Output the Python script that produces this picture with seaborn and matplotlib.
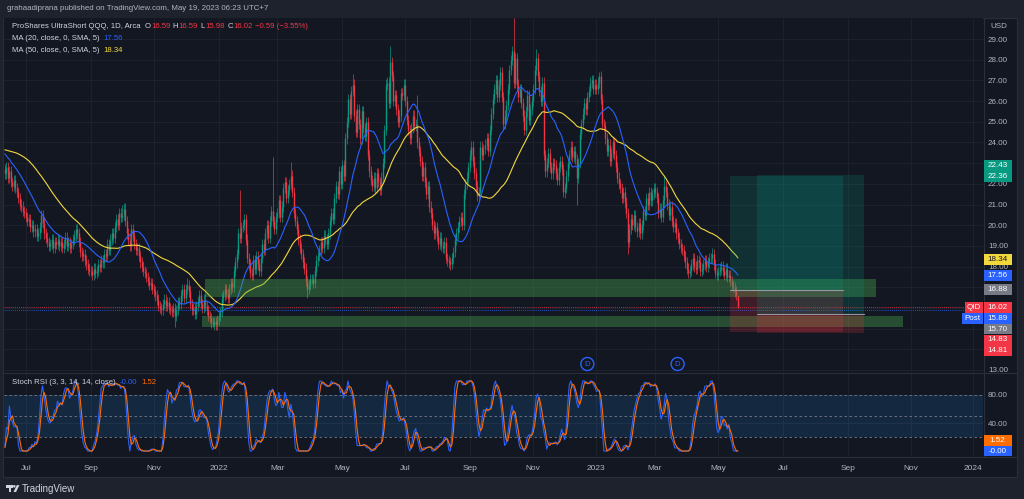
import numpy as np
import pandas as pd
import matplotlib
matplotlib.use("Agg")
import matplotlib.pyplot as plt
from matplotlib.patches import Rectangle, Circle, Polygon
from matplotlib.transforms import IdentityTransform
import seaborn as sns

W, H = 1024, 499

# ---------------------------------------------------------------- data
last_session = "2023-05-18"
market_holidays = [
    "2021-04-02", "2021-05-31", "2021-07-05", "2021-09-06", "2021-11-25", "2021-12-24",
    "2022-01-17", "2022-02-21", "2022-04-15", "2022-05-30", "2022-06-20", "2022-07-04",
    "2022-09-05", "2022-11-24", "2022-12-26", "2023-01-02", "2023-01-16", "2023-02-20",
    "2023-04-07", "2023-05-29", "2023-06-19", "2023-07-04", "2023-09-04", "2023-11-23",
    "2023-12-25", "2024-01-01", "2024-01-15",
]

# sessions before the visible window, only used to warm up the averages / RSI
warmup_closes = [
    23.9, 23.5, 23.3, 23.6, 23.2, 23.0, 23.1, 22.8, 22.9, 23.1,
    22.8, 23.0, 22.7, 22.9, 23.2, 23.1, 23.4, 23.9, 23.7, 24.1,
    24.4, 24.2, 24.6, 25.0, 24.8, 25.2, 24.9, 24.7, 24.4, 24.8,
    24.9, 24.6, 24.3, 24.0, 24.4, 24.1, 23.8, 23.9, 23.5, 23.6,
    23.4, 23.3, 23.1, 23.3, 23.0, 23.1, 22.9, 22.8, 22.6, 22.7,
]

closes_2021 = [
    # jun (from the 11th)
    22.5, 22.8, 22.3, 22.6, 22.1, 21.9, 22.2, 21.8, 21.6, 21.3, 21.0, 20.9, 20.7, 20.6,
    # jul
    20.4, 20.2, 20.3, 19.9, 20.0, 19.7, 19.8, 19.5, 19.6, 19.9, 20.5, 20.1, 19.6, 19.4,
    19.2, 19.0, 19.1, 19.3, 18.9, 19.2, 19.1,
    # aug
    19.3, 19.0, 19.2, 18.9, 19.1, 19.4, 19.0, 19.2, 18.9, 19.1, 19.3, 19.5, 19.8, 19.6,
    19.2, 18.7, 18.5, 18.6, 18.3, 18.1, 17.9, 17.8,
    # sep
    17.8, 17.6, 17.9, 17.7, 17.8, 18.1, 18.0, 18.3, 18.2, 18.6, 18.5, 19.1, 18.8, 19.3,
    19.6, 19.4, 19.9, 20.3, 20.0, 20.6, 20.4,
    # oct
    20.5, 20.8, 20.2, 19.6, 19.3, 19.0, 19.8, 19.5, 19.1, 18.8, 18.9, 18.5, 18.2, 18.0,
    17.8, 17.7, 17.5, 17.3, 17.1, 17.2, 16.9,
    # nov
    16.8, 16.6, 16.4, 16.1, 16.0, 15.9, 16.2, 16.4, 16.1, 16.3, 16.0, 15.9, 15.8, 16.0,
    15.6, 15.9, 16.3, 16.2, 16.6, 16.9, 16.5,
    # dec
    16.9, 17.1, 16.8, 16.2, 15.9, 16.0, 15.7, 16.1, 16.3, 16.6, 16.2, 16.0, 16.4, 16.1,
    15.9, 15.6, 15.5, 15.3, 15.2, 15.3, 15.2, 15.4,
]

closes_2022 = [
    # jan
    15.6, 15.8, 16.5, 16.6, 16.9, 16.7, 16.5, 16.9, 17.2, 17.0, 17.8, 18.2, 18.6, 19.6,
    19.4, 19.9, 20.0, 20.3, 19.3, 18.4,
    # feb
    18.1, 17.7, 17.6, 18.3, 17.9, 18.5, 18.1, 17.8, 18.4, 19.1, 18.8, 19.6, 20.0, 19.4,
    20.2, 20.7, 20.2, 19.8, 20.4,
    # mar
    20.6, 21.2, 20.4, 20.9, 21.8, 22.1, 21.3, 21.7, 22.0, 22.4, 21.6, 20.6, 20.2, 19.8,
    19.3, 18.9, 18.6, 18.2, 17.9, 17.3, 16.9, 17.1, 17.4,
    # apr
    17.4, 17.2, 17.8, 18.3, 18.5, 18.8, 19.2, 18.9, 19.5, 19.3, 19.1, 19.6, 20.2, 20.6,
    20.3, 21.3, 21.9, 21.5, 22.6, 22.0,
    # may
    22.9, 22.4, 24.2, 25.0, 26.1, 25.4, 26.5, 26.8, 25.3, 24.5, 25.6, 24.9, 24.2, 25.5,
    24.7, 24.3, 25.0, 23.4, 22.6, 22.2, 21.9,
    # jun
    22.3, 21.8, 22.5, 22.1, 21.7, 22.3, 23.0, 24.6, 26.8, 26.9, 25.9, 27.9, 27.2, 26.0,
    26.3, 25.6, 25.0, 25.3, 26.4, 26.3, 26.8,
    # jul
    26.0, 25.1, 24.6, 24.2, 24.7, 25.3, 24.8, 24.9, 24.0, 23.6, 23.1, 22.4, 22.8, 22.1,
    21.5, 21.9, 20.9, 20.6, 20.0, 19.6,
    # aug
    19.9, 19.5, 19.1, 19.4, 19.0, 18.9, 19.2, 18.4, 18.3, 18.2, 18.1, 18.4, 18.7, 19.3,
    19.6, 19.9, 20.2, 20.4, 20.0, 21.5, 22.0, 22.3, 22.8,
    # sep
    23.4, 23.8, 23.1, 22.5, 21.9, 21.4, 21.6, 23.8, 23.4, 23.7, 23.9, 24.2, 23.6, 24.6,
    25.4, 26.1, 26.6, 27.0, 26.2, 26.8, 27.4,
    # oct
    26.2, 24.9, 25.3, 25.8, 26.6, 27.5, 28.0, 28.4, 26.9, 28.1, 26.8, 26.2, 26.6, 25.9,
    25.3, 24.6, 25.5, 26.3, 25.1, 25.6, 26.0,
    # nov
    26.6, 27.5, 28.1, 27.2, 26.5, 26.0, 26.9, 23.4, 22.6, 23.0, 23.5, 22.8, 22.5, 23.0,
    22.9, 22.5, 22.2, 22.8, 23.1, 22.7, 21.6,
    # dec
    21.8, 22.4, 23.0, 23.4, 23.8, 23.3, 23.6, 23.2, 22.3, 23.0, 24.4, 24.9, 25.4, 25.9,
    25.6, 26.2, 26.5, 26.9, 27.0, 26.6, 26.8,
]

closes_2023 = [
    # jan
    26.6, 26.9, 27.2, 26.1, 24.9, 24.8, 24.2, 23.6, 23.9, 23.1, 23.5, 24.0, 23.4, 22.8,
    22.3, 22.0, 21.8, 21.3, 21.6, 21.1,
    # feb
    20.6, 19.2, 19.8, 20.3, 20.0, 20.5, 19.9, 19.7, 20.1, 19.6, 20.0, 20.7, 20.5, 21.3,
    21.0, 21.6, 21.2, 21.5, 21.8,
    # mar
    21.6, 21.3, 20.6, 20.8, 20.4, 21.2, 21.9, 21.6, 21.0, 20.5, 20.9, 20.2, 19.9, 20.1,
    19.6, 19.4, 19.1, 18.9, 18.8, 18.5, 18.2, 17.9, 17.7,
    # apr
    17.8, 18.1, 18.4, 18.0, 17.9, 18.3, 18.2, 17.8, 17.9, 18.1, 18.3, 18.0, 18.2, 18.4,
    18.4, 18.6, 18.1, 17.7, 17.6,
    # may (to the 18th)
    17.8, 17.9, 18.0, 17.8, 17.6, 17.9, 17.5, 17.6, 17.3, 17.1, 17.0, 16.8, 16.61, 16.02,
]

wick = 0.25
wick_highs = {
    "2021-10-01": 21.0, "2021-12-02": 17.45, "2022-01-24": 21.7, "2022-02-24": 23.3,
    "2022-03-14": 23.05, "2022-05-11": 27.3, "2022-06-16": 28.66, "2022-07-14": 26.3,
    "2022-10-13": 30.0, "2022-11-03": 28.5, "2023-01-05": 27.4, "2023-03-09": 22.4,
    "2023-04-25": 18.9, "2023-05-18": 16.59,
}
wick_lows = {
    "2021-11-19": 15.1, "2021-12-28": 15.08, "2022-03-29": 16.5, "2022-08-16": 17.9,
    "2022-12-01": 21.3, "2022-12-13": 21.0, "2023-02-02": 18.6, "2023-05-18": 15.98,
}

last_price = 16.02
post_price = 15.89
ma20_last, ma50_last = "17.56", "18.34"
stoch_k_last, stoch_d_last = "-0.00", "1.52"

# drawings on the chart
zone_upper = (16.54, 17.41, "2021-12-20", "2023-09-29")
zone_lower = (15.09, 15.62, "2021-12-16", "2023-10-25")
long_a = dict(entry=16.88, target=22.36, stop=14.83, start="2023-05-11", end="2023-08-29")
long_b = dict(entry=15.70, target=22.43, stop=14.81, start="2023-06-07", end="2023-09-19")
dividend_dates = ["2022-12-22", "2023-03-22"]

# ---------------------------------------------------------------- frame
cal = pd.bdate_range("2021-03-01", "2024-02-29", freq="C", holidays=market_holidays)
pos_of = {d.strftime("%Y-%m-%d"): i for i, d in enumerate(cal)}

closes = warmup_closes + closes_2021 + closes_2022 + closes_2023
end_i = pos_of[last_session]
start_i = end_i - len(closes) + 1
first_vis = start_i + len(warmup_closes)

df = pd.DataFrame({"x": np.arange(start_i, end_i + 1), "close": closes})
df["date"] = [cal[i].strftime("%Y-%m-%d") for i in df.x]
df["open"] = df.close.shift(1).fillna(df.close)
df.loc[df.date == last_session, "open"] = 16.59
df["high"] = np.maximum(df.open, df.close) + wick
df["low"] = np.minimum(df.open, df.close) - wick
for d, v in wick_highs.items():
    df.loc[df.date == d, "high"] = v
for d, v in wick_lows.items():
    df.loc[df.date == d, "low"] = v

df["ma20"] = df.close.rolling(20).mean()
df["ma50"] = df.close.rolling(50).mean()

delta = df.close.diff()
gain = delta.clip(lower=0).ewm(alpha=1 / 14, adjust=False).mean()
loss = (-delta.clip(upper=0)).ewm(alpha=1 / 14, adjust=False).mean()
rsi = 100 - 100 / (1 + gain / loss)
lo, hi = rsi.rolling(14).min(), rsi.rolling(14).max()
df["k"] = (100 * (rsi - lo) / (hi - lo)).rolling(3).mean()
df["d"] = df.k.rolling(3).mean()

vis = df[df.x >= first_vis].copy()

# ---------------------------------------------------------------- style
BG = "#131722"
FRAME = "#1e222d"
GRID = "#1f2330"
TXT = "#b2b5be"
LT = "#d1d4dc"
UP, DOWN = "#089981", "#f23645"
BLUE, YELLOW, ORANGE, GRAY = "#2962ff", "#f2d83c", "#ff6d00", "#787b86"

sns.set_theme(style="dark", rc={"axes.facecolor": BG, "figure.facecolor": FRAME})
plt.rcParams["font.family"] = ["Liberation Sans", "DejaVu Sans"]

fig = plt.figure(figsize=(W / 100, H / 100), dpi=100)
fig.add_artist(Rectangle((3, H - 477), 1014, 459, transform=IdentityTransform(),
                         fc=BG, ec="#2a2e39", lw=0.8, zorder=0))

ax = fig.add_axes([4 / W, (H - 372) / H, 979 / W, 354 / H])
axs = fig.add_axes([4 / W, (H - 456) / H, 979 / W, 83 / H])

bar_px = 1.505
x_left = first_vis - 0.6
x_right = x_left + 979 / bar_px
for a in (ax, axs):
    a.set_xlim(x_left, x_right)
    a.set_facecolor(BG)
    for s in a.spines.values():
        s.set_visible(False)
ax.set_ylim(12.9, 30.02)
axs.set_ylim(-7.1, 111.4)

# month ticks
tick_pos, tick_lab = [], []
for per in pd.period_range("2021-07", "2024-01", freq="M"):
    if per.month % 2 == 0:
        continue
    first = cal[cal >= per.start_time][0]
    tick_pos.append(pos_of[first.strftime("%Y-%m-%d")])
    tick_lab.append(str(per.year) if per.month == 1 else per.strftime("%b"))

for a in (ax, axs):
    a.set_xticks(tick_pos)
    a.grid(True, color=GRID, lw=0.6)
    a.yaxis.tick_right()
    a.tick_params(axis="y", length=0, pad=3.6, labelsize=5.8, labelcolor=TXT)
ax.tick_params(axis="x", length=0, labelbottom=False)
axs.set_xticklabels(tick_lab)
axs.tick_params(axis="x", length=0, pad=6.2, labelsize=6.0, labelcolor=TXT)

ax.set_yticks(range(13, 30))
ax.set_yticklabels([f"{v:.2f}" for v in range(13, 30)])
axs.set_yticks([40, 80])
axs.set_yticklabels(["40.00", "80.00"])

# candles
colors = np.where(vis.close >= vis.open, UP, DOWN)
ax.vlines(vis.x, vis.low, vis.high, colors=colors, lw=0.5, zorder=3)
ax.vlines(vis.x, vis.open, vis.close, colors=colors, lw=1.0, zorder=3)

sns.lineplot(data=vis, x="x", y="ma50", ax=ax, color=YELLOW, linewidth=0.8, legend=False, zorder=4)
sns.lineplot(data=vis, x="x", y="ma20", ax=ax, color=BLUE, linewidth=0.8, legend=False, zorder=4)

ax.axhline(last_price, color=DOWN, lw=0.6, ls=(0, (1, 1.5)), zorder=4)
ax.axhline(post_price, color=BLUE, lw=0.6, ls=(0, (1, 1.5)), zorder=4)

# support zones
for low_p, high_p, d0, d1 in (zone_upper, zone_lower):
    x0, x1 = pos_of[d0], pos_of[d1]
    ax.add_patch(Rectangle((x0, low_p), x1 - x0, high_p - low_p, fc="#4caf50", alpha=0.36,
                           ec="none", zorder=5))

# long position tools
for t in (long_a, long_b):
    x0, x1 = pos_of[t["start"]], pos_of[t["end"]]
    ax.add_patch(Rectangle((x0, t["entry"]), x1 - x0, t["target"] - t["entry"], fc=UP,
                           alpha=0.2, ec="none", zorder=5))
    ax.add_patch(Rectangle((x0, t["stop"]), x1 - x0, t["entry"] - t["stop"], fc=DOWN,
                           alpha=0.2, ec="none", zorder=5))
    ax.plot([x0, x1], [t["entry"], t["entry"]], color="#9598a1", lw=0.8, zorder=6)

# dividend markers
for d in dividend_dates:
    px, _ = ax.transData.transform((pos_of[d], 0))
    py = H - 364
    fig.add_artist(Circle((px, py), 6.5, transform=IdentityTransform(), fc=BG, ec=BLUE, lw=1.0, zorder=7))
    fig.text(px / W, py / H, "D", color=BLUE, fontsize=5.6, ha="center", va="center", zorder=8)

# stoch rsi panel
axs.axhspan(20, 80, color="#2196f3", alpha=0.14, lw=0, zorder=1)
for lvl in (20, 50, 80):
    axs.axhline(lvl, color=GRAY, lw=0.6, ls=(0, (3, 3)), zorder=2)
sns.lineplot(data=vis, x="x", y="k", ax=axs, color=BLUE, linewidth=0.8, legend=False, zorder=3)
sns.lineplot(data=vis, x="x", y="d", ax=axs, color=ORANGE, linewidth=0.8, legend=False, zorder=4)
for a in (ax, axs):
    a.set_xlabel("")
    a.set_ylabel("")

# separators
for yy in (H - 372.5, H - 456.5):
    fig.add_artist(plt.Line2D([3, 1017], [yy, yy], transform=IdentityTransform(), color="#2a2e39", lw=0.8))
fig.add_artist(plt.Line2D([983.5, 983.5], [H - 456.5, H - 18], transform=IdentityTransform(),
                          color="#2a2e39", lw=0.8))


# ---------------------------------------------------------------- text
def text_run(x_px, y_px, parts, size=5.6):
    r = fig.canvas.get_renderer()
    for s, c, gap in parts:
        t = fig.text(x_px / W, 1 - y_px / H, s, color=c, fontsize=size, ha="left", va="center")
        x_px += t.get_window_extent(r).width + gap


fig.text(7 / W, 1 - 9 / H, "grahaadiprana published on TradingView.com, May 19, 2023 06:23 UTC+7",
         color=TXT, fontsize=5.7, ha="left", va="center")
text_run(12, 26, [("ProShares UltraShort QQQ, 1D, Arca", LT, 4), ("O", LT, 0.3), ("16.59", DOWN, 2.5),
                  ("H", LT, 0.3), ("16.59", DOWN, 2.5), ("L", LT, 0.3), ("15.98", DOWN, 2.5),
                  ("C", LT, 0.3), ("16.02", DOWN, 2.5), ("\u22120.59 (\u22123.55%)", DOWN, 0)])
text_run(12, 38, [("MA (20, close, 0, SMA, 5)", LT, 4), (ma20_last, BLUE, 0)])
text_run(12, 50, [("MA (50, close, 0, SMA, 5)", LT, 4), (ma50_last, YELLOW, 0)])
text_run(12, 383, [("Stoch RSI (3, 3, 14, 14, close)", LT, 4), (stoch_k_last, BLUE, 4),
                   (stoch_d_last, ORANGE, 0)])
fig.text(990 / W, 1 - 26 / H, "USD", color=TXT, fontsize=5.8, ha="left", va="center")


def axis_tag(a, y_val, label, face, fg="white", side=None):
    py = a.transData.transform((0, y_val))[1]
    fig.add_artist(Rectangle((983.5, py - 5.3), 28, 10.6, transform=IdentityTransform(),
                             fc=face, ec="none", zorder=9))
    fig.text(997.5 / W, py / H, label, color=fg, fontsize=5.8, ha="center", va="center", zorder=10)
    if side:
        wbox = 18 if side == "QID" else 21
        fig.add_artist(Rectangle((982.5 - wbox, py - 5.3), wbox, 10.6, transform=IdentityTransform(),
                                 fc=face, ec="none", zorder=9))
        fig.text((982.5 - wbox / 2) / W, py / H, side, color="white", fontsize=5.8,
                 ha="center", va="center", zorder=10)


gap = 10.8 / 20.69
# upper target tags stack upwards
disp = None
for val, face in sorted([(long_a["target"], UP), (long_b["target"], UP)]):
    disp = val if disp is None else max(val, disp + gap)
    axis_tag(ax, disp, f"{val:.2f}", face)
# remaining tags stack downwards
lower_tags = [
    (float(ma50_last), YELLOW, "#131722", None),
    (float(ma20_last), BLUE, "white", None),
    (long_a["entry"], GRAY, "white", None),
    (last_price, DOWN, "white", "QID"),
    (post_price, BLUE, "white", "Post"),
    (long_b["entry"], GRAY, "white", None),
    (long_a["stop"], DOWN, "white", None),
    (long_b["stop"], DOWN, "white", None),
]
disp = None
for val, face, fg, side in lower_tags:
    disp = val if disp is None else min(val, disp - gap)
    axis_tag(ax, disp, f"{val:.2f}", face, fg, side)

axis_tag(axs, 10.8 / 0.7, stoch_d_last, ORANGE)
axis_tag(axs, 0.0, stoch_k_last, BLUE)

# footer logo + name
LOGO = "#d1d4dc"
fig.add_artist(Rectangle((6, H - 487.5), 6.5, 2.4, transform=IdentityTransform(), fc=LOGO, ec="none"))
fig.add_artist(Rectangle((8.6, H - 492), 2.4, 6.8, transform=IdentityTransform(), fc=LOGO, ec="none"))
fig.add_artist(Circle((14.3, H - 486.3), 1.3, transform=IdentityTransform(), fc=LOGO, ec="none"))
fig.add_artist(Polygon([(13.5, H - 492), (16.8, H - 485.1), (19.4, H - 485.1), (16.1, H - 492)],
                       transform=IdentityTransform(), fc=LOGO, ec="none"))
fig.text(22 / W, 1 - 488.5 / H, "TradingView", color=LOGO, fontsize=7, ha="left", va="center")

fig.savefig("out.png", dpi=100, facecolor=FRAME)
